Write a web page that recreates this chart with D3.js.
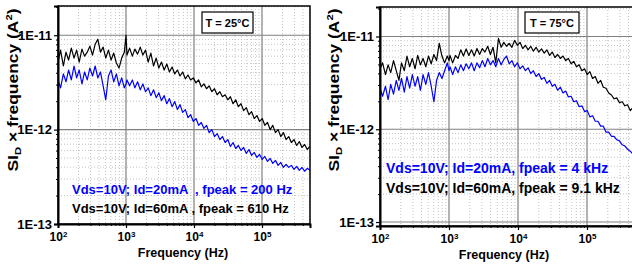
<!DOCTYPE html>
<html>
<head>
<meta charset="utf-8">
<script src="https://cdn.jsdelivr.net/npm/d3@7"></script>
<style>
  body { margin: 0; background: #fff; }
  svg { display: block; font-family: "Liberation Sans", Arial, sans-serif; font-weight: bold; }
</style>
</head>
<body>
<svg id="chart" width="632" height="264"></svg>
<script>
// frequency grid (Hz)
var FREQ = [100,109,120,131,143,157,172,188,205,225,
  246,269,294,322,352,385,421,461,504,552,
  604,660,722,790,864,945,1000,1034,1130,1240,
  1350,1480,1620,1770,1940,2120,2320,2540,2780,3040,
  3320,3640,3980,4350,4760,5210,5700,6230,6820,7460,
  8160,8930,9770,10700,11700,12800,14000,15300,16700,18300,
  20000,21900,24000,26200,28700,31400,34300,37500,41100,44900,
  49100,53700,58800,64300,70300,76900,84200,92100,100700,110000,
  120500,131800,144100,157700,172500,188700,206400,225800,247000,270200,
  295600,323400,353800,387000,423400,463200,506700];

// SI_D x f, in units of 1E-12 A^2
var ID60_T25 = [5.20,6.95,4.72,6.62,5.46,7.30,5.73,6.95,5.20,7.12,
  6.01,6.62,7.66,6.16,8.04,9.08,6.62,7.48,5.73,6.95,
  5.46,6.47,5.08,4.49,5.73,6.62,10.0,6.16,7.30,6.01,
  7.12,6.31,7.48,6.16,6.95,5.20,6.47,4.72,5.73,4.49,
  5.20,4.28,4.95,4.08,4.60,3.89,4.28,3.70,4.08,3.45,
  3.79,3.36,3.53,3.13,3.36,2.84,3.05,2.71,2.91,2.52,
  2.71,2.34,2.52,2.23,2.34,2.07,2.23,1.88,2.07,1.75,
  1.88,1.59,1.71,1.44,1.55,1.31,1.41,1.22,1.31,1.11,
  1.19,1.00,1.11,0.930,1.00,0.844,0.930,0.785,0.844,0.730,
  0.785,0.679,0.748,0.647,0.695,0.616,0.662];

var ID20_T25 = [3.36,2.77,3.89,3.21,4.28,3.36,4.72,3.53,4.28,3.05,
  4.08,3.36,4.49,3.70,4.72,3.53,4.08,2.91,2.07,3.70,
  4.28,3.21,3.89,2.91,3.53,2.77,3.05,3.36,2.91,3.36,
  2.77,3.21,2.64,3.05,2.52,2.77,2.29,2.64,2.18,2.46,
  2.03,2.29,1.88,2.13,1.75,1.98,1.63,1.84,1.52,1.63,
  1.34,1.44,1.22,1.31,1.11,1.19,1.03,1.11,0.930,1.00,
  0.844,0.908,0.785,0.844,0.730,0.785,0.662,0.730,0.631,0.679,
  0.601,0.647,0.559,0.616,0.533,0.573,0.508,0.546,0.483,0.520,
  0.460,0.495,0.439,0.472,0.418,0.449,0.398,0.428,0.398,0.418,
  0.379,0.408,0.370,0.398,0.362,0.389,0.370];

var ID60_T75 = [4.49,5.20,3.89,4.95,4.08,5.50,4.28,3.36,5.20,4.28,
  6.16,4.72,5.80,4.49,6.25,4.95,5.80,4.72,6.16,5.08,
  6.40,5.50,8.44,6.16,5.20,6.16,5.50,6.25,5.20,6.25,
  5.80,7.18,6.16,7.35,6.25,7.18,6.16,7.42,6.40,7.42,
  6.80,7.85,6.40,7.65,5.20,9.53,7.65,8.65,7.85,8.44,
  7.65,9.08,8.04,8.65,7.42,8.04,7.18,7.85,6.95,7.65,
  6.80,7.35,6.62,7.18,6.25,6.80,5.94,6.40,5.80,6.16,
  5.50,5.80,5.08,5.40,4.72,4.95,4.28,4.49,3.89,4.18,
  3.53,3.70,3.13,3.36,2.84,2.77,2.46,2.34,2.13,2.18,
  1.93,1.98,1.79,1.84,1.59,1.71,1.55];

var ID20_T75 = [2.77,2.27,2.91,2.08,3.05,2.39,3.36,2.63,3.53,2.51,
  3.70,2.77,3.89,2.91,3.70,2.63,3.89,3.05,4.08,2.91,
  1.98,3.36,4.08,3.53,4.28,5.20,4.28,4.72,3.89,4.72,
  4.08,4.95,4.28,5.08,4.49,5.20,4.28,5.20,4.60,5.50,
  4.72,5.80,4.95,5.50,4.72,5.80,4.95,5.66,6.16,5.08,
  5.50,4.72,5.20,4.49,4.83,4.28,4.60,3.98,4.28,3.70,
  3.98,3.45,3.62,3.13,3.36,2.91,3.05,2.63,2.84,2.46,
  2.58,2.23,2.27,1.98,2.03,1.75,1.79,1.55,1.59,1.36,
  1.40,1.22,1.22,1.08,1.08,0.93,0.93,0.84,0.84,0.77,
  0.75,0.68,0.66,0.61,0.58,0.54,0.52];

var X_TICKS = [1e2, 1e3, 1e4, 1e5];
var Y_TICKS = [1e-13, 1e-12, 1e-11];
var TEMPS = ["T = 25\u00B0C", "T = 75\u00B0C"];
var LEGEND_25 = ["Vds=10V; Id=20mA  , fpeak = 200 Hz", "Vds=10V; Id=60mA , fpeak = 610 Hz"];
var LEGEND_75 = ["Vds=10V; Id=20mA, fpeak = 4 kHz", "Vds=10V; Id=60mA, fpeak = 9.1 kHz"];
var COLORS = ["#000000", "#0000ff"];   // Id=60mA, Id=20mA

var PANELS = [
  { id: 0, left: 58, right: 310, top: 6, bottom: 224, xMax: 5.08e5, yDomain: [1e-13, 2.04e-11],
    series: [ID60_T25, ID20_T25], legend: LEGEND_25, legendSize: 13, temp: TEMPS[0],
    box: { x: 202, y: 12, w: 51, h: 21 }, legendX: 72, legendY: [194, 213], titleX: 13, titleY: 90 },
  { id: 1, left: 380, right: 636, top: 7, bottom: 226, xMax: 5.13e5, yDomain: [9.06e-14, 2.08e-11],
    series: [ID60_T75, ID20_T75], legend: LEGEND_75, legendSize: 14, temp: TEMPS[1],
    box: { x: 525, y: 12, w: 54, h: 21 }, legendX: 386, legendY: [173, 193], titleX: 334, titleY: 90 }
];

var svg = d3.select("#chart");

function minorValues(lo, hi) {
  var out = [];
  for (var e = Math.floor(Math.log10(lo)); e <= Math.ceil(Math.log10(hi)); e++) {
    for (var m = 2; m <= 9; m++) {
      var v = m * Math.pow(10, e);
      if (v > lo && v < hi) out.push(v);
    }
  }
  return out;
}

function drawPanel(p) {
  var g = svg.append("g");
  var x = d3.scaleLog().domain([100, p.xMax]).range([p.left, p.right]);
  var y = d3.scaleLog().domain(p.yDomain).range([p.bottom, p.top]);

  var minX = minorValues(100, p.xMax),
      minY = minorValues(p.yDomain[0], p.yDomain[1]);
  var majX = X_TICKS.filter(function (d) { return d > 100; }),
      majY = Y_TICKS.filter(function (d) { return d > p.yDomain[0]; });

  // minor grid (dotted)
  g.append("g").selectAll("line").data(minX).join("line")
    .attr("x1", x).attr("x2", x).attr("y1", p.top).attr("y2", p.bottom)
    .attr("stroke", "#c4c4c4").attr("stroke-dasharray", "1,2");
  g.append("g").selectAll("line").data(minY).join("line")
    .attr("y1", y).attr("y2", y).attr("x1", p.left).attr("x2", p.right)
    .attr("stroke", "#c4c4c4").attr("stroke-dasharray", "1,2");

  // major grid
  g.append("g").selectAll("line").data(majX).join("line")
    .attr("x1", x).attr("x2", x).attr("y1", p.top).attr("y2", p.bottom)
    .attr("stroke", "#808080").attr("stroke-width", 1.2);
  g.append("g").selectAll("line").data(majY).join("line")
    .attr("y1", y).attr("y2", y).attr("x1", p.left).attr("x2", p.right)
    .attr("stroke", "#808080").attr("stroke-width", 1.2);

  // traces
  svg.append("clipPath").attr("id", "clip" + p.id).append("rect")
    .attr("x", p.left).attr("y", p.top).attr("width", p.right - p.left).attr("height", p.bottom - p.top);

  var line = d3.line()
    .x(function (d, i) { return x(FREQ[i]); })
    .y(function (d) { return y(d * 1e-12); });

  g.append("g").attr("clip-path", "url(#clip" + p.id + ")")
    .selectAll("path").data(p.series).join("path")
    .attr("d", line)
    .attr("fill", "none")
    .attr("stroke", function (d, i) { return COLORS[i]; })
    .attr("stroke-width", 1.2)
    .attr("stroke-linejoin", "round");

  // frame
  g.append("rect").attr("x", p.left).attr("y", p.top)
    .attr("width", p.right - p.left).attr("height", p.bottom - p.top)
    .attr("fill", "none").attr("stroke", "#000").attr("stroke-width", 1.5);

  // x axis: decade ticks with 10^n labels, then unlabeled minor ticks
  var xa = g.append("g").attr("transform", "translate(0," + p.bottom + ")")
    .call(d3.axisBottom(x).tickValues(X_TICKS).tickSize(4).tickPadding(4)
      .tickFormat(function () { return "10"; }));
  xa.selectAll(".domain").attr("stroke-width", 2);
  xa.selectAll(".tick line").attr("stroke-width", 1.2);
  xa.selectAll(".tick text").attr("font-size", 12).attr("font-family", null).attr("fill", "#000")
    .append("tspan").attr("dy", "-0.45em").attr("font-size", 8)
    .text(function (d) { return Math.round(Math.log10(d)); });
  var xm = xa.append("g").call(d3.axisBottom(x).tickValues(minX).tickSize(2).tickFormat(""));
  xm.selectAll("text").remove();
  xm.select(".domain").remove();

  // y axis
  var ya = g.append("g").attr("transform", "translate(" + p.left + ",0)")
    .call(d3.axisLeft(y).tickValues(Y_TICKS).tickSize(4).tickPadding(2)
      .tickFormat(function (d) { return "1E" + Math.round(Math.log10(d)); }));
  ya.selectAll(".domain").attr("stroke-width", 2);
  ya.selectAll(".tick line").attr("stroke-width", 1.2);
  ya.selectAll(".tick text").attr("font-size", 13).attr("font-family", null).attr("fill", "#000");
  var ym = ya.append("g").call(d3.axisLeft(y).tickValues(minY).tickSize(2).tickFormat(""));
  ym.selectAll("text").remove();
  ym.select(".domain").remove();

  // axis titles
  g.append("text")
    .attr("x", (p.left + Math.min(p.right, 632)) / 2 + (p.id ? -2 : -1))
    .attr("y", p.bottom + 33)
    .attr("text-anchor", "middle").attr("font-size", 12.5)
    .text("Frequency (Hz)");

  var t = g.append("text")
    .attr("transform", "translate(" + (p.titleX + 5) + "," + p.titleY + ") rotate(-90)")
    .attr("text-anchor", "middle").attr("font-size", 14)
    .attr("textLength", 163).attr("lengthAdjust", "spacingAndGlyphs");
  t.append("tspan").text("SI");
  t.append("tspan").attr("dy", 3).attr("font-size", 9).text("D");
  t.append("tspan").attr("dy", -3).text(" \u00D7 frequency (A");
  t.append("tspan").attr("dy", -6).attr("font-size", 9).text("2");
  t.append("tspan").attr("dy", 6).text(")");

  // temperature box
  g.append("rect").attr("x", p.box.x).attr("y", p.box.y).attr("width", p.box.w).attr("height", p.box.h)
    .attr("fill", "#fff").attr("stroke", "#000").attr("stroke-width", 1.2);
  g.append("text").attr("x", p.box.x + p.box.w / 2).attr("y", p.box.y + p.box.h / 2 + 4)
    .attr("text-anchor", "middle").attr("font-size", 11).text(p.temp);

  // condition labels
  g.selectAll("text.cond").data(p.legend).join("text")
    .attr("class", "cond")
    .attr("x", p.legendX)
    .attr("y", function (d, i) { return p.legendY[i]; })
    .attr("font-size", p.legendSize)
    .style("white-space", "pre")
    .attr("fill", function (d, i) { return i === 0 ? COLORS[1] : COLORS[0]; })
    .text(function (d) { return d; });
}

PANELS.forEach(drawPanel);
</script>
</body>
</html>
